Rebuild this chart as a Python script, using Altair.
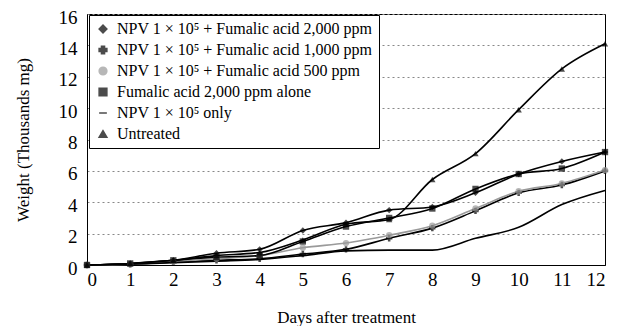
import altair as alt
import pandas as pd

days = list(range(13))
series_names = [
    "NPV 1 × 10⁵ + Fumalic acid 2,000 ppm",
    "NPV 1 × 10⁵ + Fumalic acid 1,000 ppm",
    "NPV 1 × 10⁵ + Fumalic acid 500 ppm",
    "Fumalic acid 2,000 ppm alone",
    "NPV 1 × 10⁵ only",
    "Untreated",
]
npv_fa2000 = [0, 0.1, 0.3, 0.75, 1.0, 2.2, 2.7, 3.5, 3.7, 4.6, 5.8, 6.6, 7.2]
npv_fa1000 = [0, 0.05, 0.2, 0.3, 0.4, 0.7, 1.0, 1.7, 2.35, 3.45, 4.6, 5.1, 6.0]
npv_fa500 = [0, 0.05, 0.2, 0.4, 0.6, 1.1, 1.4, 1.9, 2.5, 3.6, 4.7, 5.2, 6.05]
fa_alone = [0, 0.1, 0.3, 0.5, 0.6, 1.5, 2.45, 3.0, 3.6, 4.85, 5.8, 6.15, 7.2]
npv_only = [0, 0.05, 0.15, 0.25, 0.35, 0.6, 0.9, 0.95, 0.95, 1.7, 2.4, 3.85, 4.75]
untreated = [0, 0.1, 0.3, 0.6, 0.8, 1.6, 2.6, 2.9, 5.45, 7.1, 9.9, 12.5, 14.1]
all_values = [npv_fa2000, npv_fa1000, npv_fa500, fa_alone, npv_only, untreated]

shapes = ["diamond", "cross", "circle", "square", "M-1,0L1,0", "triangle-up"]
colors = ["black", "black", "#9a9a9a", "black", "black", "black"]

rows = []
for name, vals in zip(series_names, all_values):
    for d, v in zip(days, vals):
        rows.append({"day": d, "weight": v, "series": name})
df = pd.DataFrame(rows)

FONT = "Liberation Serif"

x = alt.X("day:Q", scale=alt.Scale(domain=[0, 12], nice=False, zero=False),
          axis=alt.Axis(values=days, title="Days after treatment", grid=False,
                        labelFontSize=19, titleFontSize=17, titlePadding=20,
                        titleFontWeight="normal", tickSize=0, labelPadding=5))
y = alt.Y("weight:Q", scale=alt.Scale(domain=[0, 16], nice=False),
          axis=alt.Axis(values=list(range(0, 17, 2)), title="Weight (Thousands mg)",
                        grid=True, gridDash=[2, 3], gridColor="#888",
                        labelFontSize=19, titleFontSize=17, titlePadding=26,
                        titleFontWeight="normal", tickSize=0, labelPadding=10,
                        labelOffset=3))

legend = alt.Legend(title=None, orient="none", legendX=2, legendY=1,
                    strokeColor="black", fillColor="white",
                    padding=6, labelFont=FONT, labelFontSize=16,
                    labelLimit=400, symbolSize=60, rowPadding=5,
                    symbolStrokeWidth=1.5, labelOffset=6)
color = alt.Color("series:N", scale=alt.Scale(domain=series_names, range=colors),
                  legend=legend)
shape = alt.Shape("series:N", scale=alt.Scale(domain=series_names, range=shapes),
                  legend=legend)

lines = alt.Chart(df).mark_line(interpolate="monotone", strokeWidth=1.6).encode(
    x=x, y=y, color=color, detail="series:N")

points = alt.Chart(df).mark_point(filled=True, size=40, strokeWidth=1.2).encode(
    x=x, y=y, color=color, shape=shape)

chart = alt.layer(lines, points).properties(
    width=518, height=251, autosize="none",
    padding={"left": 79, "top": 6, "right": 12, "bottom": 61},
).configure(font=FONT).configure_view(stroke="black", strokeWidth=1).configure_axis(
    domainColor="black", labelColor="black", titleColor="black",
    labelFont=FONT, titleFont=FONT).configure_legend(labelFont=FONT)

chart.save("out.html", embed_options={"renderer": "svg", "actions": False})
